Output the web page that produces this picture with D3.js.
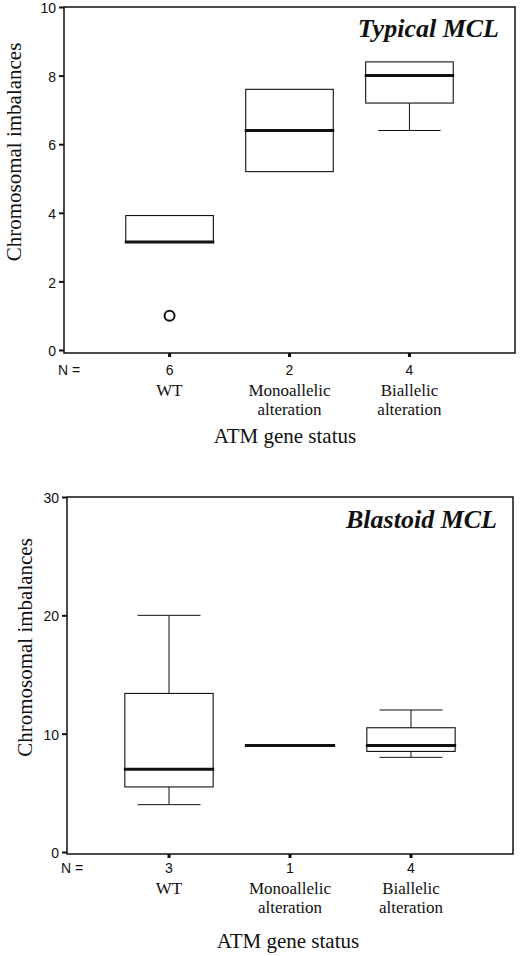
<!DOCTYPE html>
<html>
<head>
<meta charset="utf-8">
<script src="https://cdn.jsdelivr.net/npm/d3@7"></script>
<style>
  body { margin: 0; background: #fff; }
  svg { display: block; }
  .tick text { font-family: "Liberation Sans", Arial, sans-serif; font-size: 14px; fill: #111; }
  .serif { font-family: "Liberation Serif", "Times New Roman", serif; fill: #111; }
</style>
</head>
<body>
<svg id="chart" width="520" height="956"></svg>
<script>
// categories on the x axis
const categories = ["WT", "Monoallelic alteration", "Biallelic alteration"];
const categoryLines = [["WT"], ["Monoallelic", "alteration"], ["Biallelic", "alteration"]];

// Typical MCL
const typicalN = [6, 2, 4];
const typicalMin = [3.15, 5.2, 6.4];
const typicalQ1 = [3.15, 5.2, 7.2];
const typicalMedian = [3.15, 6.4, 8.0];
const typicalQ3 = [3.92, 7.6, 8.4];
const typicalMax = [3.92, 7.6, 8.4];
const typicalOutliers = [[1.0], [], []];
const typicalTicks = [0, 2, 4, 6, 8, 10];

// Blastoid MCL
const blastoidN = [3, 1, 4];
const blastoidMin = [4, 9, 8];
const blastoidQ1 = [5.5, 9, 8.5];
const blastoidMedian = [7, 9, 9];
const blastoidQ3 = [13.4, 9, 10.5];
const blastoidMax = [20, 9, 12];
const blastoidOutliers = [[], [], []];
const blastoidTicks = [0, 10, 20, 30];

const svg = d3.select("#chart");

function drawPanel(p) {
    const g = svg.append("g");

    const x = d3.scalePoint()
        .domain(categories)
        .range([p.left, p.right])
        .padding(p.pad);
    const y = d3.scaleLinear()
        .domain([0, d3.max(p.ticks)])
        .range([p.zeroY, p.top]);

    const boxW = x.step() * 0.73;
    const capW = x.step() * 0.52;

    const rows = categories.map((c, i) => ({
        cat: c, n: p.n[i],
        min: p.min[i], q1: p.q1[i], median: p.median[i], q3: p.q3[i], max: p.max[i],
        outliers: p.outliers[i]
    }));

    // frame
    g.append("rect")
        .attr("x", p.left).attr("y", p.top)
        .attr("width", p.right - p.left).attr("height", p.bottom - p.top)
        .attr("fill", "none").attr("stroke", "#111").attr("stroke-width", 1.5);

    // y axis
    const yAxis = d3.axisLeft(y).tickValues(p.ticks).tickSize(5).tickPadding(3);
    const ya = g.append("g").attr("transform", `translate(${p.left},0)`).call(yAxis);
    ya.select(".domain").remove();
    ya.selectAll(".tick line").attr("stroke", "#111").attr("stroke-width", 2);
    ya.selectAll(".tick text").attr("dy", "0.4em");

    // x tick marks (small squares under the frame)
    g.selectAll(".xtick").data(rows).join("rect")
        .attr("x", d => x(d.cat) - 1.5).attr("y", p.bottom)
        .attr("width", 3).attr("height", 4).attr("fill", "#111");

    const box = g.selectAll(".box").data(rows).join("g");

    // whiskers
    box.filter(d => d.max > d.q3).append("line")
        .attr("x1", d => x(d.cat)).attr("x2", d => x(d.cat))
        .attr("y1", d => y(d.q3)).attr("y2", d => y(d.max))
        .attr("stroke", "#111");
    box.filter(d => d.max > d.q3).append("line")
        .attr("x1", d => x(d.cat) - capW / 2).attr("x2", d => x(d.cat) + capW / 2)
        .attr("y1", d => y(d.max)).attr("y2", d => y(d.max))
        .attr("stroke", "#111");
    box.filter(d => d.min < d.q1).append("line")
        .attr("x1", d => x(d.cat)).attr("x2", d => x(d.cat))
        .attr("y1", d => y(d.q1)).attr("y2", d => y(d.min))
        .attr("stroke", "#111");
    box.filter(d => d.min < d.q1).append("line")
        .attr("x1", d => x(d.cat) - capW / 2).attr("x2", d => x(d.cat) + capW / 2)
        .attr("y1", d => y(d.min)).attr("y2", d => y(d.min))
        .attr("stroke", "#111");

    // boxes
    box.filter(d => d.q3 > d.q1).append("rect")
        .attr("x", d => x(d.cat) - boxW / 2).attr("width", boxW)
        .attr("y", d => y(d.q3)).attr("height", d => y(d.q1) - y(d.q3))
        .attr("fill", "#fff").attr("stroke", "#111").attr("stroke-width", 1.1);

    // medians
    box.append("line")
        .attr("x1", d => x(d.cat) - boxW / 2 - 1).attr("x2", d => x(d.cat) + boxW / 2 + 1)
        .attr("y1", d => y(d.median)).attr("y2", d => y(d.median))
        .attr("stroke", "#111").attr("stroke-width", 3);

    // outliers
    box.selectAll("circle").data(d => d.outliers.map(v => ({cat: d.cat, v}))).join("circle")
        .attr("cx", d => x(d.cat)).attr("cy", d => y(d.v)).attr("r", 5)
        .attr("fill", "none").attr("stroke", "#111").attr("stroke-width", 2);

    // N = row
    g.append("text")
        .attr("x", p.left - 6).attr("y", p.nY)
        .attr("font-family", "Liberation Sans, Arial, sans-serif").attr("font-size", 14)
        .attr("fill", "#111").text("N =");
    g.selectAll(".ncount").data(rows).join("text")
        .attr("x", d => x(d.cat)).attr("y", p.nY)
        .attr("text-anchor", "middle")
        .attr("font-family", "Liberation Sans, Arial, sans-serif").attr("font-size", 14)
        .attr("fill", "#111").text(d => d.n);

    // category labels
    g.selectAll(".clabel").data(categories).join("text")
        .attr("class", "serif").attr("text-anchor", "middle").attr("font-size", 17)
        .attr("x", d => x(d)).attr("y", p.catY)
        .selectAll("tspan").data((d, i) => categoryLines[i]).join("tspan")
        .attr("x", function () { return x(d3.select(this.parentNode).datum()); })
        .attr("dy", (d, i) => i === 0 ? 0 : 19)
        .text(d => d);

    // x axis title
    g.append("text").attr("class", "serif")
        .attr("x", p.xTitleX).attr("y", p.xTitleY)
        .attr("text-anchor", "middle").attr("font-size", 21)
        .text("ATM gene status");

    // y axis title
    g.append("text").attr("class", "serif")
        .attr("transform", `translate(${p.yTitleX},${(p.top + p.bottom) / 2 - 28}) rotate(-90)`)
        .attr("text-anchor", "middle").attr("font-size", 21)
        .text("Chromosomal imbalances");

    // panel title
    g.append("text").attr("class", "serif")
        .attr("x", p.right - 16).attr("y", p.top + p.titleDy)
        .attr("text-anchor", "end").attr("font-size", 26)
        .attr("font-weight", "bold").attr("font-style", "italic")
        .text(p.title);
}

drawPanel({
    title: "Typical MCL",
    left: 64, right: 515, top: 7, bottom: 353, zeroY: 350, pad: 0.88,
    ticks: typicalTicks,
    n: typicalN, min: typicalMin, q1: typicalQ1, median: typicalMedian,
    q3: typicalQ3, max: typicalMax, outliers: typicalOutliers,
    nY: 375, catY: 396, xTitleX: 285, xTitleY: 443, yTitleX: 21, titleDy: 30
});

drawPanel({
    title: "Blastoid MCL",
    left: 67, right: 513, top: 497, bottom: 854, zeroY: 852, pad: 0.843,
    ticks: blastoidTicks,
    n: blastoidN, min: blastoidMin, q1: blastoidQ1, median: blastoidMedian,
    q3: blastoidQ3, max: blastoidMax, outliers: blastoidOutliers,
    nY: 873, catY: 894, xTitleX: 288, xTitleY: 948, yTitleX: 32, titleDy: 31
});
</script>
</body>
</html>
